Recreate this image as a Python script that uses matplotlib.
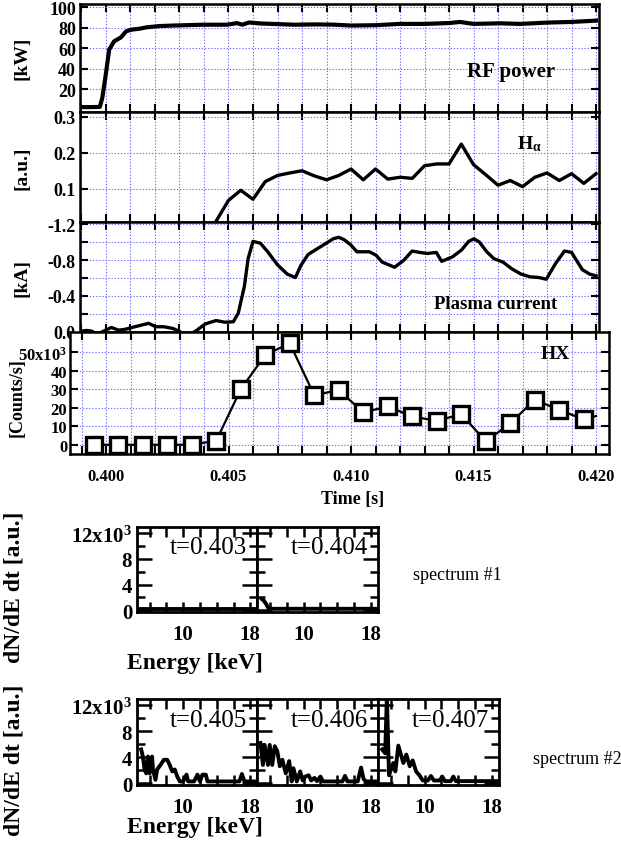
import matplotlib
matplotlib.use("Agg")
import matplotlib.pyplot as plt
from matplotlib.ticker import FixedLocator, MultipleLocator, FuncFormatter

# ---------------- data ----------------
# RF power [kW]
rf_t = [0.39896, 0.39940, 0.39975, 0.39985, 0.39999, 0.40013, 0.40033, 0.40061,
        0.40082, 0.40102, 0.40137, 0.40164, 0.40219, 0.40288, 0.40398, 0.40494,
        0.40535, 0.40556, 0.40584, 0.40632, 0.40701, 0.40769, 0.40852, 0.40925,
        0.41000, 0.41100, 0.41199, 0.41301, 0.41404, 0.41445, 0.41500, 0.41610,
        0.41692, 0.41801, 0.41897, 0.42000]
rf_p = [2.4, 2.4, 2.6, 11.5, 34.0, 58.7, 66.8, 70.7,
        76.6, 78.2, 79.2, 80.5, 81.8, 82.4, 83.1, 83.1,
        84.7, 83.1, 85.3, 84.3, 83.7, 83.1, 83.4, 83.2,
        82.3, 82.6, 83.9, 83.9, 84.8, 85.8, 83.9, 84.5,
        83.9, 85.2, 85.8, 87.1]

# H-alpha [a.u.]
ha_t = [0.4045, 0.4050, 0.4055, 0.4060, 0.4065, 0.4070, 0.4075, 0.4080,
        0.4085, 0.4090, 0.4095, 0.4100, 0.4105, 0.4110, 0.4115, 0.4120,
        0.4125, 0.4130, 0.4135, 0.4140, 0.4145, 0.4150, 0.4155, 0.4160,
        0.4165, 0.4170, 0.4175, 0.4180, 0.4185, 0.4190, 0.4195, 0.4200]
ha_v = [0.011, 0.068, 0.096, 0.071, 0.120, 0.137, 0.144, 0.150,
        0.136, 0.125, 0.137, 0.155, 0.125, 0.155, 0.127, 0.132,
        0.129, 0.164, 0.169, 0.169, 0.224, 0.167, 0.139, 0.110,
        0.123, 0.106, 0.132, 0.144, 0.123, 0.142, 0.115, 0.142]

# Plasma current [kA]
pc_t = [0.39900, 0.39920, 0.39941, 0.39965, 0.39993, 0.40022, 0.40052, 0.40081,
        0.40118, 0.40174, 0.40203, 0.40236, 0.40273, 0.40299, 0.40330, 0.40365,
        0.40405, 0.40449, 0.40486, 0.40520, 0.40540, 0.40565, 0.40580, 0.40600,
        0.40630, 0.40660, 0.40700, 0.40740, 0.40773, 0.40795, 0.40825, 0.40854,
        0.40899, 0.40928, 0.40950, 0.40972, 0.40999, 0.41024, 0.41075, 0.41102,
        0.41127, 0.41178, 0.41215, 0.41249, 0.41281, 0.41311, 0.41348, 0.41370,
        0.41414, 0.41451, 0.41480, 0.41502, 0.41524, 0.41554, 0.41583, 0.41620,
        0.41657, 0.41694, 0.41731, 0.41767, 0.41797, 0.41834, 0.41871, 0.41900,
        0.41944, 0.41974, 0.42000]
pc_i = [-0.005, -0.012, -0.005, 0.030, -0.008, -0.046, -0.015, -0.027,
        -0.054, -0.092, -0.054, -0.054, -0.035, -0.003, 0.050, -0.003,
        -0.085, -0.123, -0.104, -0.110, -0.208, -0.508, -0.815, -1.008,
        -0.988, -0.892, -0.746, -0.642, -0.604, -0.738, -0.862, -0.912,
        -0.988, -1.038, -1.054, -1.027, -0.969, -0.892, -0.892, -0.854,
        -0.777, -0.719, -0.796, -0.900, -0.885, -0.873, -0.885, -0.785,
        -0.835, -0.912, -1.008, -1.038, -1.000, -0.892, -0.815, -0.777,
        -0.700, -0.642, -0.612, -0.604, -0.585, -0.758, -0.900, -0.885,
        -0.692, -0.642, -0.623]

# Hard X-ray counts [10^3 counts/s]
hx_t = [0.3995, 0.4005, 0.4015, 0.4025, 0.4035, 0.4045, 0.4055, 0.4065,
        0.4075, 0.4085, 0.4095, 0.4105, 0.4115, 0.4125, 0.4135, 0.4145,
        0.4155, 0.4165, 0.4175, 0.4185, 0.4195, 0.4200]
hx_c = [0.0, 0.0, 0.0, 0.0, 0.0, 2.2, 30.0, 48.6,
        54.9, 26.8, 29.6, 17.5, 20.7, 15.3, 12.9, 16.6,
        1.8, 11.6, 24.4, 18.8, 13.8, 15.5]
hx_marked = 21

time_ticks = [0.400, 0.405, 0.410, 0.415, 0.420]

# X-ray spectra, energy [keV] vs dN/dE dt [10^3 a.u.]
e403 = [4.9, 6.0, 8.0, 10.0, 12.0, 14.0, 16.0, 18.8]
s403 = [0.2, 0.2, 0.2, 0.2, 0.2, 0.2, 0.2, 0.2]
e404 = [5.1, 5.3, 5.6, 5.9, 8.0, 12.0, 16.0, 18.8]
s404 = [1.7, 1.5, 0.9, 0.2, 0.2, 0.2, 0.2, 0.2]
e405 = [5.0, 5.2, 5.4, 5.6, 5.8, 6.0, 6.3, 6.4, 6.7, 6.9, 7.3, 7.7, 8.1, 8.4,
        8.7, 9.0, 9.3, 9.6, 10.0, 10.4, 10.6, 11.3, 11.7, 12.0, 12.3, 12.7,
        12.9, 16.7, 17.0, 17.3, 18.8]
s405 = [5.2, 4.1, 2.1, 1.5, 4.1, 1.5, 4.1, 2.1, 0.5, 2.1, 2.8, 3.6, 3.6, 2.8,
        1.8, 2.1, 1.0, 0.25, 0.25, 1.3, 0.25, 0.25, 1.3, 0.25, 1.3, 1.3,
        0.25, 0.25, 1.4, 0.25, 0.25]
e406 = [4.9, 5.2, 5.4, 5.8, 6.0, 6.3, 6.6, 6.9, 7.2, 7.5, 7.9, 8.3, 8.6, 8.8,
        9.2, 9.6, 9.9, 10.2, 10.6, 10.9, 11.3, 11.6, 12.0, 12.3, 14.6, 14.9,
        15.2, 16.4, 16.8, 17.1, 17.4, 18.8]
s406 = [6.2, 2.8, 5.9, 2.8, 5.9, 2.8, 5.7, 4.9, 2.6, 3.6, 1.5, 3.4, 0.25, 2.3,
        0.25, 1.8, 0.4, 1.0, 1.2, 0.4, 0.8, 0.3, 1.0, 0.25, 0.25, 1.1,
        0.25, 0.25, 2.4, 0.6, 0.25, 0.25]
e407 = [5.0, 5.35, 5.55, 5.8, 6.3, 6.55, 6.9, 7.5, 7.85, 8.25, 8.6, 9.0, 9.4,
        9.8, 10.4, 10.75, 11.1, 11.8, 12.1, 12.4, 13.1, 13.4, 13.7, 18.8]
s407 = [5.2, 4.6, 13.5, 1.2, 3.1, 1.8, 5.8, 3.1, 4.4, 2.6, 3.5, 1.8, 1.2,
        0.4, 0.4, 1.1, 0.4, 0.4, 1.0, 0.3, 0.3, 1.0, 0.3, 0.3]

# ---------------- style ----------------
plt.rcParams.update({
    "font.family": ["Liberation Serif", "DejaVu Serif"],
    "font.weight": "bold",
    "mathtext.fontset": "custom",
    "mathtext.rm": "Liberation Serif:bold",
    "mathtext.it": "Liberation Serif:bold",
    "mathtext.bf": "Liberation Serif:bold",
    "mathtext.default": "regular",
})

W, H = 621, 845
fig = plt.figure(figsize=(W / 100, H / 100), dpi=100)


def add_px(l, t, r, b):
    return fig.add_axes([l / W, 1 - b / H, (r - l) / W, (b - t) / H])


def ftext(x, y, s, **kw):
    return fig.text(x / W, 1 - y / H, s, **kw)


GRID = dict(color="#6e6eff", linestyle=(0, (1.2, 1.6)), linewidth=0.8)


def time_axes(l, t, r, b, x0, x1):
    ax = add_px(l, t, r, b)
    ax.set_xlim(x0, x1)
    ax.xaxis.set_major_locator(FixedLocator(time_ticks))
    ax.xaxis.set_minor_locator(MultipleLocator(0.001))
    ax.grid(True, which="both", **GRID)
    ax.tick_params(which="both", direction="in", top=True, right=True,
                   length=6, width=1.5, labelsize=12)
    ax.tick_params(axis="y", labelsize=13, pad=3)
    for sp in ax.spines.values():
        sp.set_linewidth(1.8)
    return ax


# ---------------- time traces ----------------
ax_rf = time_axes(80, 5, 599, 113, 0.39894, 0.42012)
ax_rf.plot(rf_t, rf_p, color="k", lw=3.0)
ax_rf.set_ylim(-2.4, 103.4)
ax_rf.yaxis.set_major_locator(FixedLocator([20, 40, 60, 80, 100]))
ax_rf.tick_params(labelbottom=False)
ax_rf.text(0.83, 0.38, "RF power", transform=ax_rf.transAxes,
           ha="center", va="center", fontsize=15)

ax_ha = time_axes(80, 113, 599, 223, 0.39894, 0.42012)
ax_ha.plot(ha_t, ha_v, color="k", lw=2.4)
ax_ha.set_ylim(0.008, 0.313)
ax_ha.yaxis.set_major_locator(FixedLocator([0.1, 0.2, 0.3]))
ax_ha.yaxis.set_major_formatter(FuncFormatter(lambda v, p: f"{v:.1f}"))
ax_ha.tick_params(labelbottom=False)
ax_ha.text(0.865, 0.72, r"H$_{\alpha}$", transform=ax_ha.transAxes,
           ha="center", va="center", fontsize=14)

ax_pc = time_axes(80, 223, 599, 333, 0.39894, 0.42012)
ax_pc.plot(pc_t, pc_i, color="k", lw=2.4)
ax_pc.set_ylim(0.005, -1.225)
ax_pc.yaxis.set_major_locator(FixedLocator([-1.2, -0.8, -0.4, 0.0]))
ax_pc.yaxis.set_minor_locator(FixedLocator([-1.0, -0.6, -0.2]))
ax_pc.yaxis.set_major_formatter(FuncFormatter(lambda v, p: f"{v:.1f}"))
ax_pc.tick_params(labelbottom=False)
ax_pc.text(0.80, 0.26, "Plasma current", transform=ax_pc.transAxes,
           ha="center", va="center", fontsize=13.5)

ax_hx = time_axes(70, 333, 609, 455, 0.39853, 0.42053)
ax_hx.plot(hx_t, hx_c, color="k", lw=1.6, marker="s", markersize=12,
           markerfacecolor="white", markeredgecolor="k", markeredgewidth=2.4,
           markevery=list(range(hx_marked)), clip_on=False)
ax_hx.set_ylim(-5, 61)
ax_hx.yaxis.set_major_locator(FixedLocator([0, 10, 20, 30, 40, 50]))
ax_hx.set_yticklabels(["0", "10", "20", "30", "40", r"50x10$^{3}$"])
ax_hx.tick_params(axis="y", labelsize=12, pad=2)
ax_hx.xaxis.set_major_formatter(FuncFormatter(lambda v, p: f"{v:.3f}"))
ax_hx.tick_params(axis="x", pad=10)
ax_hx.text(0.9, 0.82, "HX", transform=ax_hx.transAxes,
           ha="center", va="center", fontsize=14)

ftext(22, 58, "[kW]", rotation=90, ha="center", va="center", fontsize=14)
ftext(22, 168, "[a.u.]", rotation=90, ha="center", va="center", fontsize=14)
ftext(22, 278, "[kA]", rotation=90, ha="center", va="center", fontsize=14)
ftext(17, 398, "[Counts/s]", rotation=90, ha="center", va="center", fontsize=13)
ftext(353, 500, "Time [s]", ha="center", va="center", fontsize=13)


# ---------------- spectra ----------------
def spec_panel(l, t, r, b, e, s, label, first):
    ax = add_px(l, t, r, b)
    ax.plot(e, s, color="k", lw=2.8, solid_joinstyle="round")
    ax.set_xlim(4.5, 18.8)
    ax.set_ylim(-0.3, 13)
    ax.xaxis.set_major_locator(FixedLocator([10, 18]))
    ax.xaxis.set_minor_locator(FixedLocator([6, 8, 12, 14, 16]))
    ax.yaxis.set_major_locator(FixedLocator([0, 4, 8, 12]))
    ax.yaxis.set_minor_locator(FixedLocator([2, 6, 10]))
    ax.tick_params(which="both", direction="in", top=True, right=True,
                   width=1.8, labelsize=15)
    ax.tick_params(axis="x", which="both", length=7, pad=9)
    ax.tick_params(axis="y", which="major", length=11)
    ax.tick_params(axis="y", which="minor", length=6)
    if first:
        ax.set_yticklabels(["0", "4", "8", r"12x10$^{3}$"])
    else:
        ax.tick_params(labelleft=False)
    for sp in ax.spines.values():
        sp.set_linewidth(2.0)
    ax.text(0.92, 0.76, label, transform=ax.transAxes, ha="right",
            va="center", fontsize=18, fontweight="normal")
    return ax


spec_panel(137, 528, 257, 613, e403, s403, "t=0.403", True)
spec_panel(257, 528, 378, 613, e404, s404, "t=0.404", False)
spec_panel(137, 700, 257, 786, e405, s405, "t=0.405", True)
spec_panel(257, 700, 378, 786, e406, s406, "t=0.406", False)
spec_panel(378, 700, 499, 786, e407, s407, "t=0.407", False)

ftext(195, 664, "Energy [keV]", ha="center", va="center", fontsize=17)
ftext(195, 828, "Energy [keV]", ha="center", va="center", fontsize=17)
ftext(14, 587, "dN/dE dt [a.u.]", rotation=90, ha="center", va="center", fontsize=17)
ftext(14, 760, "dN/dE dt [a.u.]", rotation=90, ha="center", va="center", fontsize=17)
ftext(413, 575, "spectrum #1", ha="left", va="center", fontsize=13, fontweight="normal")
ftext(533, 760, "spectrum #2", ha="left", va="center", fontsize=13, fontweight="normal")

fig.savefig("out.png", dpi=100)
